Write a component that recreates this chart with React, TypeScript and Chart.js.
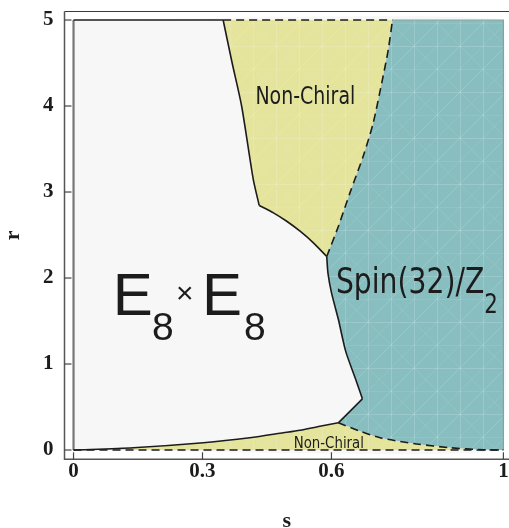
import React, { useEffect, useRef } from "react";
import { Chart, registerables } from "chart.js";
Chart.register(...registerables);

// ---- axis ticks ----
const xTickValues = [0, 0.3, 0.6, 1];
const yTickValues = [0, 1, 2, 3, 4, 5];

// ---- phase boundaries (s, r) ----
const chiralTopLeftS = [0.348, 0.369, 0.391, 0.418, 0.432];
const chiralTopLeftR = [5.0, 4.5, 4.0, 3.15, 2.843];
const chiralArcS = [0.432, 0.465, 0.496, 0.527, 0.558, 0.589];
const chiralArcR = [2.843, 2.758, 2.66, 2.544, 2.409, 2.25];
const chiralRightS = [0.589, 0.616, 0.643, 0.674, 0.697, 0.717, 0.732, 0.742];
const chiralRightR = [2.25, 2.6, 2.99, 3.42, 3.8, 4.27, 4.65, 5.0];
const spinLeftS = [0.589, 0.592, 0.6, 0.616, 0.633, 0.655, 0.672];
const spinLeftR = [2.25, 2.05, 1.83, 1.52, 1.15, 0.84, 0.595];
const spinKinkS = [0.672, 0.616];
const spinKinkR = [0.595, 0.316];
const e8LowerS = [0, 0.139, 0.302, 0.41, 0.488, 0.527, 0.573, 0.616];
const e8LowerR = [0, 0.026, 0.084, 0.142, 0.2, 0.23, 0.277, 0.316];
const chiralLowS = [0.616, 0.666, 0.713, 0.759, 0.798, 0.876, 0.953, 1];
const chiralLowR = [0.316, 0.219, 0.142, 0.1, 0.07, 0.026, 0.003, 0];
const sRange = [0, 1];
const rRange = [0, 5];

const pts = (s: number[], r: number[]) => s.map((v, i) => ({ x: v, y: r[i] }));
const rev = <T,>(a: T[]) => [...a].reverse();

const WHITE = "#f7f7f7";
const YELLOW = "#e4e49c";
const TEAL = "#88bec0";
const INK = "#1c1c1c";
const TENSION = 0.25;

function texture(base: string) {
  const c = document.createElement("canvas");
  c.width = 46;
  c.height = 46;
  const g = c.getContext("2d")!;
  g.fillStyle = base;
  g.fillRect(0, 0, 46, 46);
  g.strokeStyle = "rgba(255,255,255,0.16)";
  g.lineWidth = 1;
  g.beginPath();
  g.moveTo(0.5, 0);
  g.lineTo(0.5, 46);
  g.moveTo(0, 0.5);
  g.lineTo(46, 0.5);
  g.moveTo(23.5, 0);
  g.lineTo(23.5, 46);
  g.moveTo(0, 46);
  g.lineTo(46, 0);
  g.stroke();
  g.strokeStyle = "rgba(255,255,255,0.09)";
  g.beginPath();
  g.moveTo(0, 23.5);
  g.lineTo(46, 23.5);
  g.moveTo(0, 23);
  g.lineTo(23, 0);
  g.moveTo(23, 46);
  g.lineTo(46, 23);
  g.moveTo(0, 0);
  g.lineTo(46, 46);
  g.stroke();
  return g.createPattern(c, "repeat") as CanvasPattern;
}

function poly(data: { x: number; y: number }[], color: any, order: number) {
  return {
    data,
    showLine: true,
    fill: "shape",
    backgroundColor: color,
    borderColor: "transparent",
    borderWidth: 1,
    pointRadius: 0,
    tension: TENSION,
    order,
  };
}
function line(
  data: { x: number; y: number }[],
  dashed: boolean,
  order = 1,
  color = INK,
  width = 1.6,
  tension = TENSION
) {
  return {
    data,
    showLine: true,
    fill: false,
    borderColor: color,
    borderWidth: width,
    borderDash: dashed ? [8, 5] : [],
    pointRadius: 0,
    tension,
    order,
  };
}

function drawInk(ctx: CanvasRenderingContext2D, text: string, font: string, left: number, baseline: number, width?: number) {
  ctx.font = font;
  const m = ctx.measureText(text);
  const inkW = m.actualBoundingBoxLeft + m.actualBoundingBoxRight;
  const sx = width ? width / inkW : 1;
  ctx.save();
  ctx.translate(left, baseline);
  ctx.scale(sx, 1);
  ctx.fillText(text, m.actualBoundingBoxLeft, 0);
  ctx.restore();
  return sx;
}

const decor = {
  id: "decor",
  afterDraw(chart: any) {
    const { ctx, chartArea, scales } = chart;
    const x = scales.x;
    const y = scales.y;
    ctx.save();
    // frame
    ctx.strokeStyle = "#3a3a3a";
    ctx.lineWidth = 1.2;
    ctx.beginPath();
    ctx.moveTo(chartArea.right, chartArea.top);
    ctx.lineTo(chartArea.left, chartArea.top);
    ctx.stroke();
    ctx.strokeStyle = "#555";
    ctx.lineWidth = 1.5;
    ctx.beginPath();
    ctx.moveTo(chartArea.left, chartArea.top);
    ctx.lineTo(chartArea.left, chartArea.bottom);
    ctx.lineTo(chartArea.right, chartArea.bottom);
    ctx.stroke();
    // inward ticks
    ctx.lineWidth = 1.2;
    ctx.strokeStyle = "#444";
    xTickValues.forEach((v) => {
      const px = x.getPixelForValue(v);
      ctx.beginPath();
      ctx.moveTo(px, chartArea.bottom);
      ctx.lineTo(px, chartArea.bottom - 7);
      ctx.stroke();
    });
    yTickValues.forEach((v) => {
      const py = y.getPixelForValue(v);
      ctx.beginPath();
      ctx.moveTo(chartArea.left, py);
      ctx.lineTo(chartArea.left + 7, py);
      ctx.stroke();
    });
    // region labels
    ctx.fillStyle = INK;
    ctx.textBaseline = "alphabetic";
    ctx.textAlign = "left";
    const dv = "DejaVu Sans";
    drawInk(ctx, "Non-Chiral", `24px "${dv}"`, 257, 104, 97);
    drawInk(ctx, "Non-Chiral", `16.5px "${dv}"`, 294.5, 447.5, 69);
    const sx = drawInk(ctx, "Spin(32)/Z", `35px "${dv}"`, 337.5, 293, 146);
    ctx.font = `26.5px "${dv}"`;
    const m2 = ctx.measureText("2");
    ctx.save();
    ctx.translate(485, 312.5);
    ctx.scale(sx, 1);
    ctx.fillText("2", m2.actualBoundingBoxLeft, 0);
    ctx.restore();
    const ls = '"Liberation Sans"';
    drawInk(ctx, "E", `60px ${ls}`, 116.7, 315);
    drawInk(ctx, "8", `39px ${ls}`, 153, 340);
    drawInk(ctx, "\u00d7", `30px ${ls}`, 178, 303);
    drawInk(ctx, "E", `60px ${ls}`, 206, 315);
    drawInk(ctx, "8", `39px ${ls}`, 245, 340);
    ctx.restore();
  },
};

export default function App() {
  const ref = useRef<HTMLCanvasElement | null>(null);
  useEffect(() => {
    if (!ref.current) return;
    const full = pts([sRange[0], sRange[1], sRange[1], sRange[0]], [rRange[0], rRange[0], rRange[1], rRange[1]]);
    const upperChiral = [
      ...pts(chiralTopLeftS, chiralTopLeftR),
      ...pts(chiralArcS, chiralArcR),
      ...pts(chiralRightS, chiralRightR),
      { x: chiralRightS[chiralRightS.length - 1], y: rRange[1] },
    ];
    const spin = [
      ...rev(pts(chiralRightS, chiralRightR)),
      ...pts(spinLeftS, spinLeftR),
      ...pts(spinKinkS, spinKinkR),
      ...pts(chiralLowS, chiralLowR),
      { x: sRange[1], y: rRange[0] },
      { x: sRange[1], y: rRange[1] },
      { x: sRange[1], y: rRange[1] },
    ];
    const lowerChiral = [...pts(e8LowerS, e8LowerR), ...pts(chiralLowS, chiralLowR), { x: sRange[1], y: rRange[0] }];
    const topStart = chiralTopLeftS[0];
    const topEnd = chiralRightS[chiralRightS.length - 1];

    const tickFont = { family: "Liberation Serif", size: 21, weight: "bold" as const };
    const titleFont = { family: "Liberation Serif", size: 22, weight: "bold" as const };

    const chart = new Chart(ref.current, {
      type: "scatter",
      data: {
        datasets: [
          poly(full, WHITE, 10),
          poly(upperChiral, texture(YELLOW), 9),
          poly(spin, texture(TEAL), 8),
          poly(lowerChiral, texture(YELLOW), 7),
          line(pts([0, 0], rRange), false, 2, "#777", 2.2, 0),
          line(pts([topEnd, 1, 1], [5, 5, 0]), false, 2, "#8e9e9f", 1.2, 0),
          line(pts([0, topStart], [5, 5]), false, 1, INK, 1.6, 0),
          line(pts([topStart, topEnd], [5, 5]), true, 1, INK, 1.6, 0),
          line(pts(sRange, [0, 0]), true, 1, INK, 1.6, 0),
          line(pts(chiralTopLeftS, chiralTopLeftR), false),
          line(pts(chiralArcS, chiralArcR), false),
          line(pts(chiralRightS, chiralRightR), true),
          line(pts(spinLeftS, spinLeftR), false),
          line(pts(spinKinkS, spinKinkR), false, 1, INK, 1.6, 0),
          line(pts(e8LowerS, e8LowerR), false),
          line(pts(chiralLowS, chiralLowR), true),
        ] as any,
      },
      options: {
        responsive: false,
        animation: false,
        devicePixelRatio: 1,
        layout: { padding: { top: 11.5, left: 0, right: 0, bottom: 0 } },
        plugins: { legend: { display: false }, tooltip: { enabled: false } },
        events: [],
        scales: {
          x: {
            type: "linear",
            min: -0.021,
            max: 1.013,
            grid: { display: false, drawTicks: false },
            border: { display: false },
            ticks: {
              autoSkip: false,
              padding: 0,
              color: INK,
              font: tickFont,
              maxRotation: 0,
              callback: (v: any) => String(v),
            },
            afterBuildTicks: (scale: any) => {
              scale.ticks = xTickValues.map((v) => ({ value: v }));
            },
            afterFit: (scale: any) => {
              scale.height = 528 - 459.3;
              scale.paddingLeft = 0;
              scale.paddingRight = 0;
            },
            title: { display: true, text: "s", color: INK, font: titleFont, padding: { top: 0, bottom: -6.5 } },
          },
          y: {
            type: "linear",
            min: -0.108,
            max: 5.099,
            grid: { display: false, drawTicks: false },
            border: { display: false },
            ticks: {
              padding: 11,
              color: INK,
              font: tickFont,
              callback: (v: any) => String(v),
            },
            afterBuildTicks: (scale: any) => {
              scale.ticks = yTickValues.map((v) => ({ value: v }));
            },
            afterFit: (scale: any) => {
              scale.width = 64.5;
              scale.paddingTop = 0;
              scale.paddingBottom = 0;
            },
            title: { display: true, text: "r", color: INK, font: titleFont, padding: { top: 0.5, bottom: 0 } },
          },
        },
      },
      plugins: [decor],
    } as any);
    return () => chart.destroy();
  }, []);
  return (
    <div style={{ position: "absolute", left: 0, top: 0, width: 509, height: 528, overflow: "hidden", background: "#fff" }}>
      <canvas ref={ref} width={509} height={528} style={{ display: "block" }} />
    </div>
  );
}
